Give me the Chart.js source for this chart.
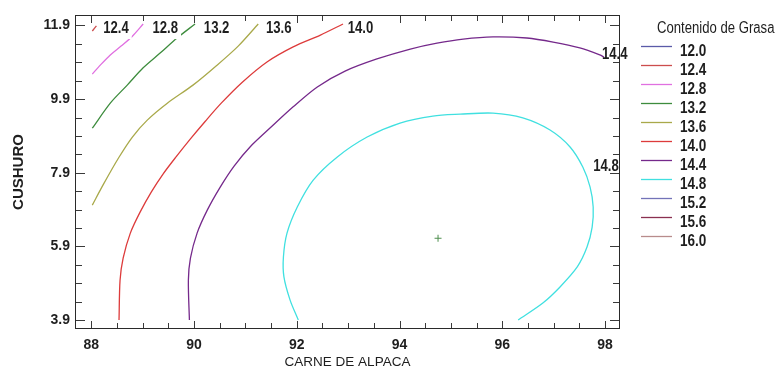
<!DOCTYPE html>
<html>
<head>
<meta charset="utf-8">
<script src="https://cdn.jsdelivr.net/npm/chart.js@4.4.1/dist/chart.umd.min.js"></script>
<style>
  html, body { margin: 0; padding: 0; background: #ffffff; }
  #wrap { width: 778px; height: 374px; position: relative; }
</style>
</head>
<body>
<div id="wrap"><canvas id="chart" width="778" height="374"></canvas></div>
<script>
// Axis ticks (every 0.5 unit) and the labelled ones
const xTicks = [88, 88.5, 89, 89.5, 90, 90.5, 91, 91.5, 92, 92.5, 93, 93.5, 94, 94.5, 95, 95.5, 96, 96.5, 97, 97.5, 98];
const xTickLabels = ['88', '90', '92', '94', '96', '98'];
const yTicks = [3.9, 4.4, 4.9, 5.4, 5.9, 6.4, 6.9, 7.4, 7.9, 8.4, 8.9, 9.4, 9.9, 10.4, 10.9, 11.4, 11.9];
const yTickLabels = ['3.9', '5.9', '7.9', '9.9', '11.9'];

// Contour levels of fat content and their line colours
const levels = ['12.0', '12.4', '12.8', '13.2', '13.6', '14.0', '14.4', '14.8', '15.2', '15.6', '16.0'];
const levelColors = ['#5b5ba8', '#cc4d4d', '#e070e0', '#3d8c3d', '#a9a94a', '#dd3b3b', '#75298b', '#40e0e0', '#7373b8', '#8a3050', '#b88c8c'];

// Contour paths: [CARNE DE ALPACA, CUSHURO]
const contour124 = [[88.02, 11.75], [88.06, 11.82], [88.10, 11.89]];
const contour128 = [[88.02, 10.58], [88.18, 10.83], [88.37, 11.10], [88.58, 11.34], [88.80, 11.61], [89.01, 11.94]];
const contour132 = [[88.02, 9.11], [88.37, 9.79], [88.70, 10.28], [89.01, 10.75], [89.34, 11.15], [89.67, 11.56], [90.02, 11.94]];
const contour136 = [[88.02, 7.02], [88.23, 7.57], [88.53, 8.30], [88.80, 8.87], [89.09, 9.33], [89.48, 9.79], [89.98, 10.28], [90.43, 10.80], [90.86, 11.34], [91.25, 11.94]];
const contour140 = [[88.54, 3.90], [88.56, 4.98], [88.62, 5.58], [88.76, 6.26], [88.95, 6.83], [89.17, 7.38], [89.40, 7.87], [89.65, 8.33], [89.93, 8.82], [90.22, 9.30], [90.53, 9.79], [90.94, 10.36], [91.42, 10.91], [91.93, 11.32], [92.46, 11.64], [92.90, 11.94]];
const contour144 = [[89.91, 3.90], [89.89, 4.98], [89.93, 5.58], [90.06, 6.26], [90.26, 6.89], [90.51, 7.51], [90.78, 8.08], [91.09, 8.60], [91.50, 9.14], [91.93, 9.69], [92.40, 10.23], [92.94, 10.66], [93.56, 10.99], [94.21, 11.26], [94.73, 11.42], [95.24, 11.53], [95.82, 11.59], [96.48, 11.56], [96.99, 11.45], [97.51, 11.29], [97.90, 11.10], [97.98, 11.04]];
const contour148 = [[92.03, 3.90], [91.87, 4.44], [91.75, 5.07], [91.74, 5.61], [91.81, 6.26], [92.01, 6.97], [92.32, 7.70], [92.79, 8.33], [93.37, 8.87], [94.01, 9.25], [94.65, 9.44], [95.18, 9.49], [95.82, 9.52], [96.40, 9.39], [96.93, 9.06], [97.32, 8.60], [97.57, 8.05], [97.71, 7.51], [97.77, 6.97], [97.75, 6.42], [97.65, 5.88], [97.46, 5.34], [97.12, 4.79], [96.79, 4.36], [96.31, 3.90]];

// Optimum point of the response surface
const optimum = [[94.75, 6.12]];

// Inline contour labels: text and anchor in data units
const contourLabelText = ['12.4', '12.8', '13.2', '13.6', '14.0', '14.4', '14.8'];
const contourLabelX = [88.48, 89.44, 90.44, 91.65, 93.24, 98.19, 98.02];
const contourLabelY = [11.83, 11.83, 11.83, 11.83, 11.83, 11.15, 8.10];

const SANS = "'Liberation Sans', Arial, sans-serif";
const TEXT = '#1e1e1e';
const NARROW_SCALE = 0.82;

function toPoints(arr) { return arr.map(p => ({ x: p[0], y: p[1] })); }
function lineSet(arr, level) {
  return {
    data: toPoints(arr),
    showLine: true,
    borderColor: levelColors[levels.indexOf(level)],
    borderWidth: 1.3,
    pointRadius: 0,
    tension: 0.3,
    fill: false
  };
}

// condensed text: the sans face squeezed horizontally
function narrowText(ctx, txt, x, y, font, align) {
  ctx.save();
  ctx.translate(x, y);
  ctx.scale(NARROW_SCALE, 1);
  ctx.font = font;
  ctx.textAlign = align;
  ctx.textBaseline = 'middle';
  ctx.fillText(txt, 0, 0);
  ctx.restore();
}

const frameAndLabels = {
  id: 'frameAndLabels',
  afterDraw(chart) {
    const { ctx, chartArea: a, scales: { x, y } } = chart;
    ctx.save();
    // inward tick marks on all four sides
    ctx.strokeStyle = '#3a3a3a';
    ctx.lineWidth = 1;
    ctx.beginPath();
    x.ticks.forEach(t => {
      const px = Math.round(x.getPixelForValue(t.value)) + 0.5;
      const len = xTickLabels.includes(String(t.value)) ? 8 : 6;
      ctx.moveTo(px, a.bottom); ctx.lineTo(px, a.bottom - len);
      ctx.moveTo(px, a.top); ctx.lineTo(px, a.top + len);
    });
    y.ticks.forEach(t => {
      const py = Math.round(y.getPixelForValue(t.value)) + 0.5;
      const len = yTickLabels.includes(t.value.toFixed(1)) ? 10 : 7;
      ctx.moveTo(a.left, py); ctx.lineTo(a.left + len, py);
      ctx.moveTo(a.right, py); ctx.lineTo(a.right - len, py);
    });
    ctx.stroke();

    // contour value labels on white boxes
    const labelFont = 'bold 16px ' + SANS;
    ctx.font = labelFont;
    contourLabelText.forEach((txt, i) => {
      const px = x.getPixelForValue(contourLabelX[i]);
      const py = y.getPixelForValue(contourLabelY[i]);
      const w = ctx.measureText(txt).width * NARROW_SCALE;
      if (i < 5) {
        ctx.fillStyle = '#ffffff';
        ctx.fillRect(px - w / 2 - 3, a.top + 1, w + 6, py - a.top + 10);
      }
      ctx.fillStyle = TEXT;
      narrowText(ctx, txt, px, py + 1, labelFont, 'center');
    });

    // plot frame
    ctx.strokeStyle = '#2a2a2a';
    ctx.lineWidth = 1;
    ctx.strokeRect(Math.round(a.left) + 0.5, Math.round(a.top) + 0.5, Math.round(a.right - a.left) - 1, Math.round(a.bottom - a.top) - 1);

    // legend
    const lx = 641, tx = 680;
    ctx.fillStyle = TEXT;
    narrowText(ctx, 'Contenido de Grasa', 657, 29, '16px ' + SANS, 'left');
    levels.forEach((lv, i) => {
      const ty = 51 + i * 19.02;
      ctx.strokeStyle = levelColors[i];
      ctx.lineWidth = 1.3;
      ctx.beginPath();
      ctx.moveTo(lx, Math.round(ty - 5) + 0.5);
      ctx.lineTo(lx + 31, Math.round(ty - 5) + 0.5);
      ctx.stroke();
      ctx.fillStyle = TEXT;
      narrowText(ctx, lv, tx, ty, 'bold 16.5px ' + SANS, 'left');
    });
    ctx.restore();
  }
};

new Chart(document.getElementById('chart'), {
  type: 'scatter',
  data: {
    datasets: [
      lineSet(contour124, '12.4'),
      lineSet(contour128, '12.8'),
      lineSet(contour132, '13.2'),
      lineSet(contour136, '13.6'),
      lineSet(contour140, '14.0'),
      lineSet(contour144, '14.4'),
      lineSet(contour148, '14.8'),
      {
        data: toPoints(optimum),
        pointStyle: 'cross',
        pointRadius: 3.5,
        borderColor: '#4f8f4f',
        borderWidth: 1,
        showLine: false
      }
    ]
  },
  options: {
    responsive: false,
    animation: false,
    devicePixelRatio: 1,
    layout: { padding: { left: 0, top: 15, right: 158, bottom: 0 } },
    plugins: { legend: { display: false }, tooltip: { enabled: false } },
    scales: {
      x: {
        type: 'linear',
        min: 87.683,
        max: 98.292,
        afterBuildTicks: s => { s.ticks = xTicks.map(v => ({ value: v })); },
        afterFit: s => { s.height = 45; },
        grid: { display: false, drawTicks: false },
        border: { display: false },
        ticks: {
          padding: 8,
          color: TEXT,
          font: { family: SANS, size: 14, weight: 'bold' },
          maxRotation: 0,
          autoSkip: false,
          callback: v => (xTickLabels.includes(String(v)) ? String(v) : '')
        },
        title: {
          display: true,
          text: 'CARNE DE ALPACA',
          color: TEXT,
          font: { family: SANS, size: 13.5 },
          padding: { top: 0, bottom: 4 }
        }
      },
      y: {
        type: 'linear',
        min: 3.655,
        max: 12.185,
        afterBuildTicks: s => { s.ticks = yTicks.map(v => ({ value: v })); },
        afterFit: s => { s.width = 75; },
        grid: { display: false, drawTicks: false },
        border: { display: false },
        ticks: {
          padding: 5,
          color: TEXT,
          font: { family: SANS, size: 14, weight: 'bold' },
          autoSkip: false,
          callback: v => (yTickLabels.includes(Number(v).toFixed(1)) ? Number(v).toFixed(1) : '')
        },
        title: {
          display: true,
          text: 'CUSHURO',
          color: TEXT,
          font: { family: SANS, size: 15, weight: 'bold' },
          padding: { top: 10, bottom: 0 }
        }
      }
    }
  },
  plugins: [frameAndLabels]
});
</script>
</body>
</html>
